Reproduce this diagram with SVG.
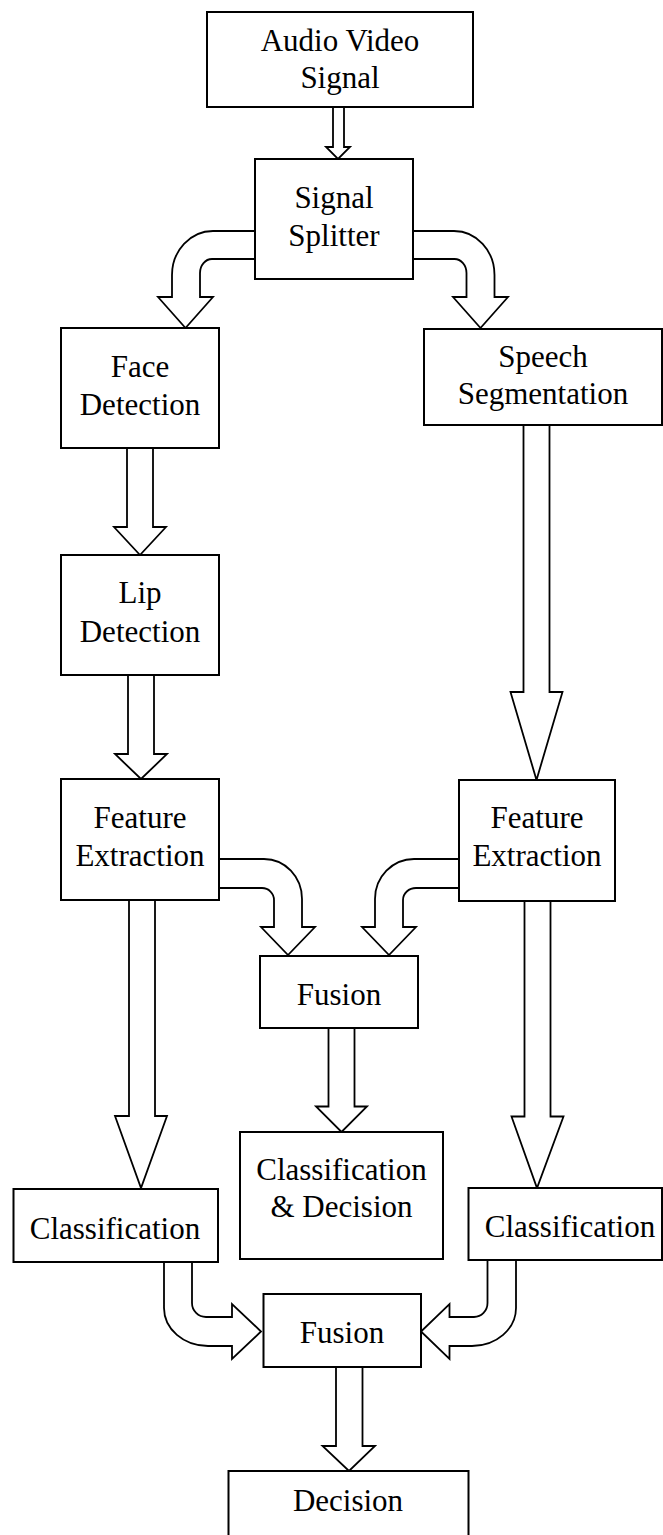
<svg xmlns="http://www.w3.org/2000/svg" width="663" height="1535" viewBox="0 0 663 1535">
<style>
.box{fill:#fff;stroke:#000;stroke-width:2}
.arr{fill:#fff;stroke:#000;stroke-width:1.8;stroke-linejoin:miter}
text{font-family:"Liberation Serif","Times New Roman",serif;font-size:31px;fill:#000;text-anchor:middle}
</style>
<rect width="663" height="1535" fill="#fff"/>
<g id="connectors">
<path class="arr" d="M333,107 V147 H326 L338,159 L350,147 H344 V107 Z"/>
<path class="arr" d="M255,231 H213 A41,44 0 0 0 172,275 V297 H158 L185.5,328 L213,297 H200 V273 A12,14 0 0 1 212,259 H255 Z"/>
<path class="arr" d="M413,231 H454 A40.5,44 0 0 1 494.5,275 V297 H508 L480.5,328 L453,297 H466.5 V273 A12,14 0 0 0 454.5,259 H413 Z"/>
<path class="arr" d="M127,448 V527 H114 L140,555 L166,527 H153 V448 Z"/>
<path class="arr" d="M128,675 V754 H115 L141,779 L167,754 H154 V675 Z"/>
<path class="arr" d="M523.5,425 V692 H510.5 L536.5,780 L562.5,692 H549.5 V425 Z"/>
<path class="arr" d="M219,859 H264 A38,40 0 0 1 302,899 V927 H315 L288,955 L261,927 H274 V900 A12,12 0 0 0 262,888 H219 Z"/>
<path class="arr" d="M459,859 H414 A39,40 0 0 0 375,899 V927 H362 L389,955 L416,927 H403 V900 A13,12 0 0 1 416,888 H459 Z"/>
<path class="arr" d="M129,900 V1116 H115 L141,1188 L167,1116 H155 V900 Z"/>
<path class="arr" d="M524.5,901 V1116.5 H511.5 L537,1188 L563.5,1116.5 H550.5 V901 Z"/>
<path class="arr" d="M328.5,1028 V1106.5 H316 L341.5,1132 L367,1106.5 H354.5 V1028 Z"/>
<path class="arr" d="M164,1262 V1308 A44,38 0 0 0 208,1346 H232 V1359 L261,1331.5 L232,1304 V1317 H206 A14,14 0 0 1 192,1303 V1262 Z"/>
<path class="arr" d="M516,1260 V1308 A44,38 0 0 1 472,1346 H449.5 V1359 L421,1331.5 L449.5,1304 V1317 H474 A13.5,14 0 0 0 487.5,1303 V1260 Z"/>
<path class="arr" d="M336,1367 V1446 H322.5 L349,1471 L375,1446 H362.5 V1367 Z"/>
</g>
<g id="audio-video-signal"><rect class="box" x="207" y="12" width="266" height="95"/><text x="340" y="51">Audio Video</text><text x="340" y="88">Signal</text></g>
<g id="signal-splitter"><rect class="box" x="255" y="159" width="158" height="120"/><text x="334" y="208">Signal</text><text x="334" y="245.5">Splitter</text></g>
<g id="face-detection"><rect class="box" x="61" y="328" width="158" height="120"/><text x="140" y="376.5">Face</text><text x="140" y="415">Detection</text></g>
<g id="speech-segmentation"><rect class="box" x="424" y="329" width="238" height="96"/><text x="543" y="367">Speech</text><text x="543" y="404">Segmentation</text></g>
<g id="lip-detection"><rect class="box" x="61" y="555" width="158" height="120"/><text x="140" y="603">Lip</text><text x="140" y="641.5">Detection</text></g>
<g id="feature-extraction-left"><rect class="box" x="61" y="779" width="158" height="121"/><text x="140" y="828">Feature</text><text x="140" y="866">Extraction</text></g>
<g id="feature-extraction-right"><rect class="box" x="459" y="780" width="156" height="121"/><text x="537" y="828">Feature</text><text x="537" y="866">Extraction</text></g>
<g id="fusion-feature"><rect class="box" x="260" y="956" width="158" height="72"/><text x="339" y="1005">Fusion</text></g>
<g id="classification-decision"><rect class="box" x="240" y="1132" width="203" height="127"/><text x="341.5" y="1180">Classification</text><text x="341.5" y="1216.5">&amp; Decision</text></g>
<g id="classification-left"><rect class="box" x="13.5" y="1189" width="204.5" height="73"/><text x="115" y="1238.5">Classification</text></g>
<g id="classification-right"><rect class="box" x="468.5" y="1188" width="193.5" height="72"/><text x="570" y="1236.5">Classification</text></g>
<g id="fusion-decision"><rect class="box" x="263.5" y="1294" width="157.5" height="73"/><text x="342" y="1342.5">Fusion</text></g>
<g id="decision"><rect class="box" x="228.5" y="1471" width="240" height="68"/><text x="348" y="1511">Decision</text></g>
</svg>
